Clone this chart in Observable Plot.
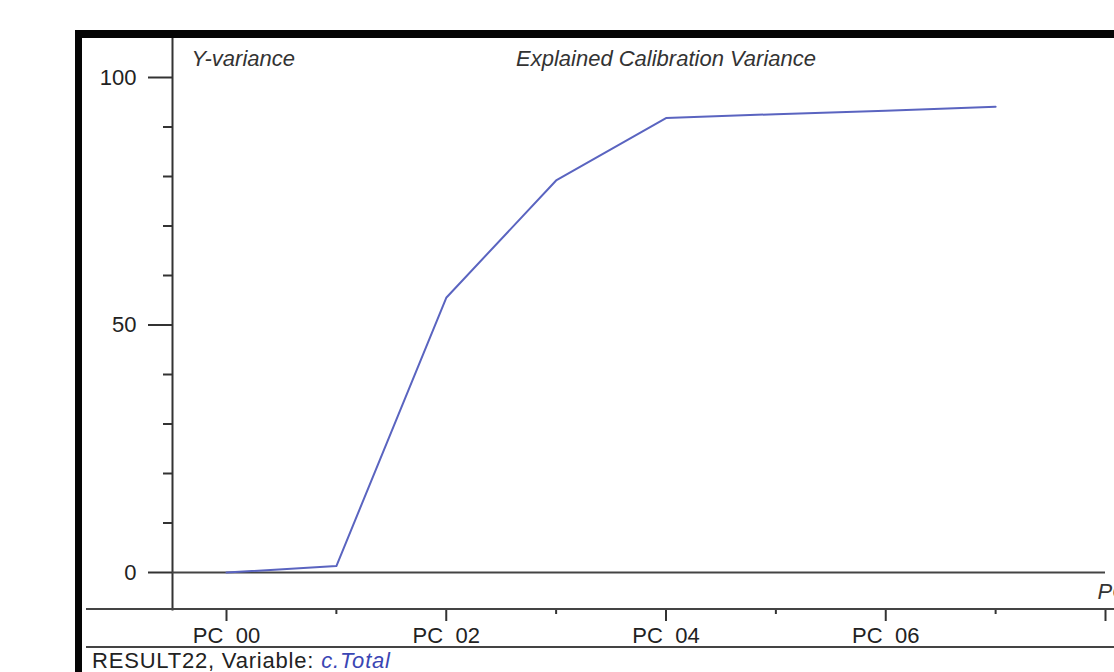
<!DOCTYPE html>
<html><head><meta charset="utf-8">
<script src="https://cdn.jsdelivr.net/npm/d3@7"></script>
<script src="https://cdn.jsdelivr.net/npm/@observablehq/plot@0.6"></script>
<style>
html,body{margin:0;padding:0;background:#fff;overflow:hidden}
svg{display:block}
</style>
</head><body><div id="chart"></div>
<script>
// ---- data ----
const pcs = [0, 1, 2, 3, 4, 5, 6, 7];
const variance = [0, 1.3, 55.5, 79.2, 91.8, 92.6, 93.3, 94.1];
const xMajorTicks = [0, 2, 4, 6, 8];
const xMajorLabels = ["PC_00", "PC_02", "PC_04", "PC_06", ""];
const xMinorTicks = [1, 3, 5, 7];
const yMajorTicks = [0, 50, 100];
const yMinorTicks = [10, 20, 30, 40, 60, 70, 80, 90];
const titleText = "Explained Calibration Variance";
const yTitle = "Y-variance";
const xTitle = "PCs";
const footerPrefix = "RESULT22, Variable: ";
const footerVar = "c.Total";

const data = pcs.map((pc, i) => ({pc, v: variance[i]}));

// ---- layout ----
const W = 1114, H = 672;
const FONT = "'Liberation Sans', Arial, sans-serif";
const AX = "#333";

const chart = Plot.plot({
  width: W, height: H,
  marginLeft: 172, marginRight: 9, marginTop: 38, marginBottom: 63,
  style: {fontFamily: FONT, fontSize: "22px", color: "#222", background: "#fff", overflow: "hidden"},
  x: {domain: [0, 8], range: [226, 1105], label: null},
  y: {domain: [0, 100], range: [572, 77], label: null},
  marks: [
    Plot.frame({anchor: "left", stroke: AX, strokeWidth: 2}),
    Plot.ruleY([0], {stroke: "#444", strokeWidth: 2}),
    Plot.axisY(yMajorTicks, {anchor: "left", label: null, tickSize: 24, tickPadding: 12, stroke: AX, strokeWidth: 2, fill: "#222", fontSize: 22, tickFormat: d => String(d)}),
    Plot.axisY(yMinorTicks, {anchor: "left", label: null, tickSize: 9, stroke: AX, strokeWidth: 2, tickFormat: () => ""}),
    Plot.axisX(xMajorTicks, {anchor: "bottom", label: null, tickSize: 12, tickPadding: 6, stroke: AX, strokeWidth: 2, fill: "#222", fontSize: 22,
      tickFormat: d => xMajorLabels[xMajorTicks.indexOf(d)]}),
    Plot.axisX(xMinorTicks, {anchor: "bottom", label: null, tickSize: 5, stroke: AX, strokeWidth: 2, tickFormat: () => ""}),
    Plot.line(data, {x: "pc", y: "v", stroke: "#5a64c0", strokeWidth: 2}),
    Plot.text([yTitle], {frameAnchor: "top-left", dx: 19, dy: 12, lineAnchor: "top", textAnchor: "start", fontStyle: "italic", fontSize: 22, fill: "#333"}),
    Plot.text([titleText], {frameAnchor: "top", dx: 27, dy: 12, lineAnchor: "top", textAnchor: "middle", fontStyle: "italic", fontSize: 22, fill: "#333"}),
    Plot.text([xTitle], {frameAnchor: "bottom-right", dx: -8, dy: -26, lineAnchor: "top", textAnchor: "start", fontStyle: "italic", fontSize: 22, fill: "#333"})
  ]
});

// ---- window decorations (frame, separator lines, footer) ----
const svg = d3.select(chart);
const deco = svg.append("g");
deco.append("rect").attr("x", 75).attr("y", 30).attr("width", W - 75).attr("height", 8).attr("fill", "#050505");
deco.append("rect").attr("x", 75).attr("y", 30).attr("width", 7).attr("height", H - 30).attr("fill", "#050505");
deco.append("line").attr("x1", 86).attr("x2", W).attr("y1", 609).attr("y2", 609).attr("stroke", "#444").attr("stroke-width", 2);
deco.append("line").attr("x1", 86).attr("x2", W).attr("y1", 647).attr("y2", 647).attr("stroke", "#444").attr("stroke-width", 2);
const ft = deco.append("text").attr("x", 92).attr("y", 668).attr("text-anchor", "start")
  .attr("font-family", FONT).attr("font-size", 22).attr("letter-spacing", 0.8).attr("fill", "#222");
ft.append("tspan").text(footerPrefix);
ft.append("tspan").attr("fill", "#3a46b4").attr("font-style", "italic").text(footerVar);

document.getElementById("chart").appendChild(chart);
</script>
</body></html>
